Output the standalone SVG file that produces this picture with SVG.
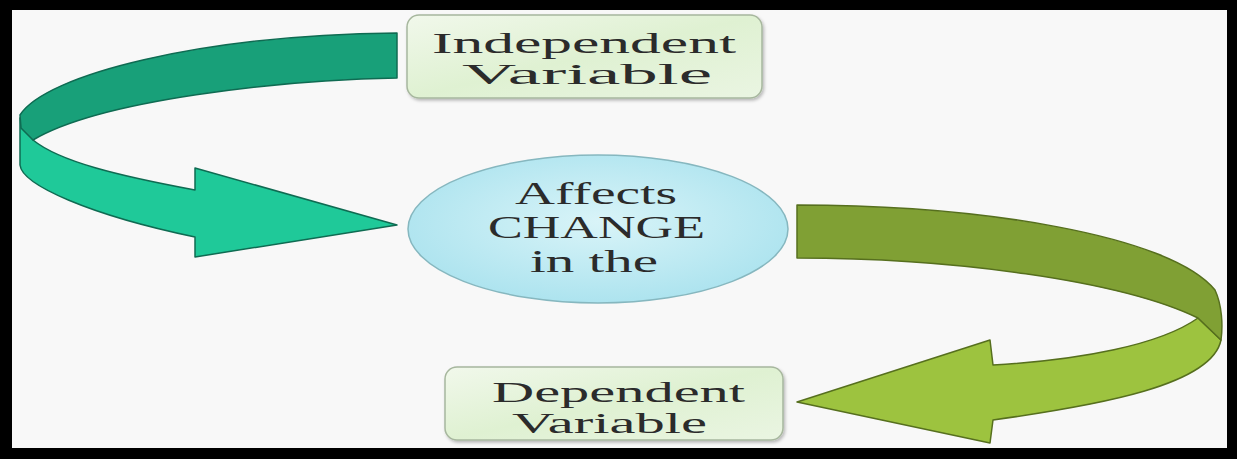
<svg xmlns="http://www.w3.org/2000/svg" width="1237" height="459" viewBox="0 0 1237 459">
  <style>
    .lbl { font-family: "Liberation Serif", "DejaVu Serif", serif; fill: #2b2b2b; }
    .box { stroke: #a7b79e; stroke-width: 1.5; fill: url(#boxGrad); filter: url(#shadow); }
    .tealDark { fill: #18a079; stroke: #0f6b52; stroke-width: 1.5; stroke-linejoin: round; }
    .tealLight { fill: #1fc999; stroke: #0f6b52; stroke-width: 1.5; stroke-linejoin: round; }
    .greenDark { fill: #80a034; stroke: #566f1e; stroke-width: 1.5; stroke-linejoin: round; }
    .greenLight { fill: #9dc33f; stroke: #566f1e; stroke-width: 1.5; stroke-linejoin: round; }
  </style>
  <defs>
    <linearGradient id="boxGrad" x1="0" y1="0" x2="1" y2="1">
      <stop offset="0" stop-color="#f1f8eb"/>
      <stop offset="0.5" stop-color="#dff1d2"/>
      <stop offset="1" stop-color="#eaf5e2"/>
    </linearGradient>
    <radialGradient id="ellGrad" cx="0.5" cy="0.45" r="0.6">
      <stop offset="0" stop-color="#d9f4f8"/>
      <stop offset="1" stop-color="#a9e2ee"/>
    </radialGradient>
    <filter id="shadow" x="-5%" y="-10%" width="112%" height="125%">
      <feDropShadow dx="1.5" dy="2" stdDeviation="1.5" flood-color="#000" flood-opacity="0.25"/>
    </filter>
  </defs>

  <!-- frame and background -->
  <rect x="0" y="0" width="1237" height="459" fill="#000"/>
  <rect x="12" y="10" width="1215" height="438" fill="#f8f8f8"/>

  <g id="connectors">
    <!-- teal arrow: Independent Variable -> Affects CHANGE -->
    <path class="tealLight" d="M 20 118 L 20 165 C 22 185, 90 215, 195 237 L 195 257 L 397 225 L 195 168 L 195 190 C 120 176, 60 162, 33 140 Z"/>
    <path class="tealDark" d="M 397 33 L 397 78 C 280 80, 100 100, 33 140 L 21 128 L 20 115 C 45 75, 200 35, 397 33 Z"/>
    <!-- green arrow: Affects CHANGE -> Dependent Variable -->
    <path class="greenLight" d="M 1221 340 C 1212 385, 1100 405, 993 420 L 990 443 L 797 402 L 990 340 L 993 365 C 1080 360, 1160 345, 1198 318 Z"/>
    <path class="greenDark" d="M 797 205 C 980 205, 1170 235, 1215 290 C 1222 305, 1223 325, 1221 340 L 1198 318 C 1120 280, 950 258, 797 258 Z"/>
  </g>

  <g id="independent">
    <rect class="box" x="407" y="15" width="355" height="83" rx="12"/>
    <text class="lbl" x="432" y="53" font-size="30" textLength="304" lengthAdjust="spacingAndGlyphs">Independent</text>
    <text class="lbl" x="462" y="84" font-size="30" textLength="250" lengthAdjust="spacingAndGlyphs">Variable</text>
  </g>

  <g id="affects">
    <ellipse cx="598" cy="229" rx="190" ry="74" fill="url(#ellGrad)" stroke="#86b7bf" stroke-width="1.5"/>
    <text class="lbl" x="515" y="204" font-size="31" textLength="162" lengthAdjust="spacingAndGlyphs">Affects</text>
    <text class="lbl" x="488" y="238" font-size="31" textLength="217" lengthAdjust="spacingAndGlyphs">CHANGE</text>
    <text class="lbl" x="530" y="272" font-size="31" textLength="128" lengthAdjust="spacingAndGlyphs">in the</text>
  </g>

  <g id="dependent">
    <rect class="box" x="445" y="367" width="338" height="73" rx="12"/>
    <text class="lbl" x="492" y="402" font-size="29" textLength="253" lengthAdjust="spacingAndGlyphs">Dependent</text>
    <text class="lbl" x="512" y="433" font-size="29" textLength="195" lengthAdjust="spacingAndGlyphs">Variable</text>
  </g>
</svg>
